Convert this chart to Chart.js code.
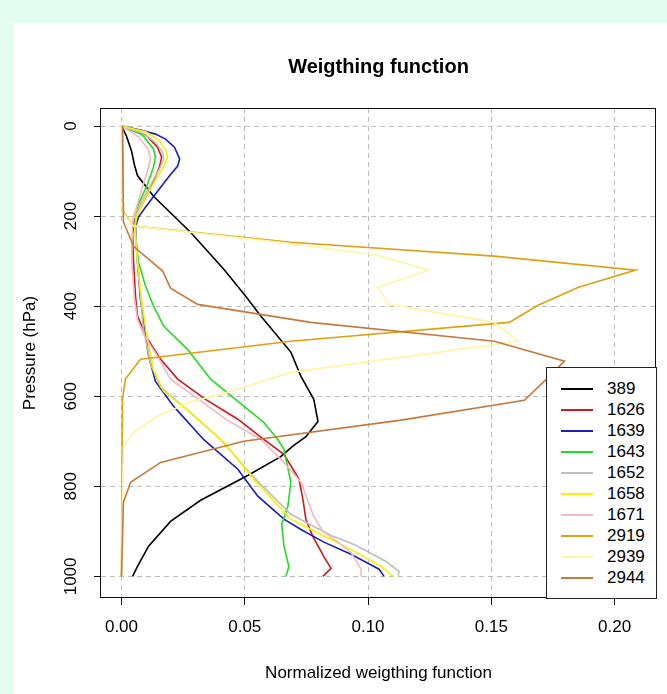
<!DOCTYPE html>
<html>
<head>
<meta charset="utf-8">
<script src="https://cdn.jsdelivr.net/npm/chart.js@4.4.1/dist/chart.umd.min.js"></script>
<style>
html,body{margin:0;padding:0;background:#e3fdf0;}
#wrap{position:relative;width:667px;height:694px;overflow:hidden;}
#chart{position:absolute;left:0;top:0;}
#legend{position:absolute;left:546px;top:367px;width:111px;height:232px;box-sizing:border-box;border:1px solid #222;background:#fff;font-family:"Liberation Sans",Arial,Helvetica,sans-serif;font-size:17px;color:#000;}
.row{position:absolute;left:0;width:100%;height:21px;line-height:21px;}
.sw{position:absolute;left:14px;top:10px;width:32px;height:2px;}
.lb{position:absolute;left:60px;top:0;}
</style>
</head>
<body>
<div id="wrap">
<canvas id="chart" width="667" height="694"></canvas>
<div id="legend"></div>
</div>
<script>
// ---- data (pressure in hPa, normalized weighting function) ----
const seriesLabels = ['389','1626','1639','1643','1652','1658','1671','2919','2939','2944'];
const seriesColors = ['#000000','#cc1a1a','#1c1cc0','#22dd22','#bebebe','#f8f000','#f4b8c4','#e0a010','#fff5a0','#c47a3c'];
const xTickValues = [0, 0.05, 0.10, 0.15, 0.20];
const yTickValues = [0, 200, 400, 600, 800, 1000];

const p389 = [0, 22, 56, 87, 110, 156, 236, 318, 378, 422, 502, 556, 607, 656, 690, 711, 734, 776, 831, 878, 933, 978, 1000];
const w389 = [0, 0.002, 0.0041, 0.0053, 0.0065, 0.013, 0.028, 0.0415, 0.0504, 0.0565, 0.0687, 0.0728, 0.078, 0.0797, 0.0748, 0.0695, 0.0646, 0.0512, 0.0321, 0.0199, 0.011, 0.0065, 0.0045];

const p1626 = [0, 20, 47, 69, 91, 129, 173, 209, 240, 302, 378, 422, 473, 518, 562, 607, 651, 696, 729, 784, 829, 873, 911, 956, 982, 1000];
const w1626 = [0, 0.0098, 0.0146, 0.0163, 0.0154, 0.0126, 0.0085, 0.0053, 0.0045, 0.0049, 0.0057, 0.0065, 0.0106, 0.0159, 0.0228, 0.0341, 0.0472, 0.0577, 0.0659, 0.072, 0.0736, 0.0748, 0.0776, 0.0821, 0.085, 0.0817];

const p1639 = [0, 9, 18, 29, 47, 73, 89, 113, 151, 180, 202, 224, 273, 329, 384, 451, 511, 567, 622, 696, 762, 822, 873, 896, 924, 951, 984, 1000];
const w1639 = [0, 0.0077, 0.0138, 0.0179, 0.0215, 0.0236, 0.0228, 0.0191, 0.0138, 0.0098, 0.0069, 0.0057, 0.0061, 0.0069, 0.0077, 0.0094, 0.011, 0.0138, 0.0211, 0.0333, 0.0472, 0.0553, 0.0659, 0.0728, 0.0821, 0.0931, 0.1045, 0.1065];

const p1643 = [0, 20, 51, 69, 91, 129, 173, 202, 244, 302, 356, 400, 444, 496, 562, 622, 658, 696, 718, 791, 844, 884, 933, 978, 1000];
const w1643 = [0, 0.0085, 0.013, 0.0138, 0.013, 0.0106, 0.0069, 0.0057, 0.0057, 0.0069, 0.0098, 0.013, 0.0171, 0.0268, 0.0362, 0.0496, 0.0577, 0.0634, 0.0659, 0.0687, 0.0675, 0.065, 0.0659, 0.0679, 0.0667];

const p1652 = [0, 16, 36, 58, 73, 96, 127, 167, 200, 233, 302, 378, 451, 529, 580, 631, 696, 778, 862, 909, 931, 967, 989, 1000];
const w1652 = [0, 0.0085, 0.0138, 0.0167, 0.0171, 0.0154, 0.0122, 0.0081, 0.0057, 0.0057, 0.0065, 0.0077, 0.0089, 0.0118, 0.0159, 0.0268, 0.0402, 0.0533, 0.0687, 0.085, 0.0951, 0.1073, 0.1126, 0.1122];

const p1658 = [0, 13, 31, 53, 69, 91, 120, 158, 196, 224, 302, 378, 451, 540, 589, 636, 702, 784, 873, 918, 940, 978, 1000];
const w1658 = [0, 0.0098, 0.015, 0.0179, 0.0187, 0.0171, 0.0138, 0.0098, 0.0065, 0.0053, 0.0065, 0.0081, 0.0098, 0.013, 0.0171, 0.028, 0.0415, 0.0537, 0.0687, 0.085, 0.0931, 0.1053, 0.1102];

const p1671 = [0, 24, 53, 73, 91, 129, 173, 209, 296, 384, 429, 462, 511, 562, 602, 651, 696, 747, 791, 867, 900, 924, 947, 984, 1000];
const w1671 = [0, 0.0069, 0.011, 0.0118, 0.011, 0.0089, 0.0065, 0.0045, 0.0041, 0.0053, 0.0065, 0.0089, 0.0146, 0.0199, 0.0301, 0.0423, 0.0565, 0.0659, 0.0728, 0.078, 0.0817, 0.0878, 0.0931, 0.0972, 0.0972];

const p2919 = [0, 191, 222, 258, 289, 320, 358, 398, 436, 478, 518, 562, 607, 1000];
const w2919 = [0.0004, 0.0008, 0.0049, 0.0687, 0.1512, 0.2085, 0.1854, 0.169, 0.1573, 0.0687, 0.0077, 0.0016, 0.0004, 0];

const p2939 = [0, 191, 222, 258, 287, 320, 358, 396, 436, 478, 547, 589, 613, 644, 680, 711, 829, 1000];
const w2939 = [0, 0.0004, 0.0049, 0.0646, 0.104, 0.1244, 0.104, 0.1085, 0.151, 0.161, 0.0687, 0.0443, 0.028, 0.0146, 0.0049, 0.0008, 0.0004, 0];

const p2944 = [0, 213, 267, 322, 360, 396, 436, 478, 522, 562, 609, 653, 700, 747, 791, 836, 918, 1000];
const w2944 = [0.0004, 0.0008, 0.0049, 0.0167, 0.0199, 0.0309, 0.0768, 0.1512, 0.1797, 0.1724, 0.1634, 0.1134, 0.0496, 0.0159, 0.0037, 0.0008, 0.0004, 0];

const pressures = [p389, p1626, p1639, p1643, p1652, p1658, p1671, p2919, p2939, p2944];
const weights   = [w389, w1626, w1639, w1643, w1652, w1658, w1671, w2919, w2939, w2944];

const FONT = '"Liberation Sans", Arial, Helvetica, sans-serif';
Chart.defaults.font.family = FONT;
Chart.defaults.color = '#000';

const datasets = seriesLabels.map((lab, i) => ({
  label: lab,
  data: pressures[i].map((p, j) => ({x: weights[i][j], y: p})),
  borderColor: seriesColors[i],
  backgroundColor: seriesColors[i],
  borderWidth: 1.6,
  showLine: true,
  pointRadius: 0,
  fill: false,
  tension: 0,
  order: seriesLabels.length - i
}));

const bgPlugin = {
  id: 'bg',
  beforeDraw(chart) {
    const ctx = chart.ctx;
    ctx.save();
    ctx.fillStyle = '#e3fdf0';
    ctx.fillRect(0, 0, chart.width, chart.height);
    ctx.fillStyle = '#ffffff';
    ctx.fillRect(14, 23, chart.width - 14, chart.height - 23);
    ctx.restore();
  }
};
const framePlugin = {
  id: 'frame',
  afterDraw(chart) {
    const a = chart.chartArea, ctx = chart.ctx;
    ctx.save();
    ctx.strokeStyle = '#111';
    ctx.lineWidth = 1;
    const l = Math.round(a.left) - 0.5, t = Math.round(a.top) + 0.5;
    const r = Math.round(a.right) - 0.5, b = Math.round(a.bottom) - 0.5;
    ctx.strokeRect(l, t, r - l, b - t);
    ctx.restore();
  }
};

new Chart(document.getElementById('chart'), {
  type: 'scatter',
  data: { datasets },
  plugins: [bgPlugin, framePlugin],
  options: {
    responsive: false,
    animation: false,
    events: [],
    layout: { padding: { left: 0, right: 11, top: 0, bottom: 0 } },
    plugins: {
      legend: { display: false },
      tooltip: { enabled: false },
      title: {
        display: true,
        text: 'Weigthing function',
        fullSize: false,
        color: '#000',
        font: { size: 20, weight: 'bold', family: FONT },
        padding: { top: 55, bottom: 29 }
      }
    },
    scales: {
      x: {
        type: 'linear',
        position: 'bottom',
        min: -0.0083,
        max: 0.2168,
        afterBuildTicks: (ax) => { ax.ticks = xTickValues.map(v => ({ value: v })); },
        afterFit: (ax) => { ax.height = 96; },
        ticks: {
          font: { size: 17 },
          color: '#000',
          padding: 12,
          maxRotation: 0,
          autoSkip: false,
          callback: (v) => Number(v).toFixed(2)
        },
        grid: { color: '#bdbdbd', lineWidth: 1, drawTicks: true, tickLength: 7, tickColor: '#111', tickWidth: 1 },
        border: { display: false, dash: [5, 4] },
        title: {
          display: true,
          text: 'Normalized weigthing function',
          color: '#000',
          font: { size: 17 },
          padding: { top: 0, bottom: 10 }
        }
      },
      y: {
        type: 'linear',
        position: 'left',
        reverse: true,
        min: -40,
        max: 1048,
        afterBuildTicks: (ax) => { ax.ticks = yTickValues.map(v => ({ value: v })); },
        afterFit: (ax) => { ax.width = 101; },
        ticks: {
          font: { size: 17 },
          color: '#000',
          padding: 4,
          minRotation: 90,
          maxRotation: 90,
          crossAlign: 'center',
          autoSkip: false,
          callback: (v) => String(v)
        },
        grid: { color: '#bdbdbd', lineWidth: 1, drawTicks: true, tickLength: 7, tickColor: '#111', tickWidth: 1 },
        border: { display: false, dash: [5, 4] },
        title: {
          display: true,
          text: 'Pressure (hPa)',
          color: '#000',
          font: { size: 17 },
          padding: { top: 20, bottom: 0 }
        }
      }
    }
  }
});

// HTML legend built from the same label/colour arrays
const leg = document.getElementById('legend');
seriesLabels.forEach((lab, i) => {
  const row = document.createElement('div');
  row.className = 'row';
  row.style.top = (20 + i * 21.1 - 10.5) + 'px';
  const sw = document.createElement('div');
  sw.className = 'sw';
  sw.style.backgroundColor = seriesColors[i];
  const tx = document.createElement('span');
  tx.className = 'lb';
  tx.textContent = lab;
  row.appendChild(sw);
  row.appendChild(tx);
  leg.appendChild(row);
});
</script>
</body>
</html>
